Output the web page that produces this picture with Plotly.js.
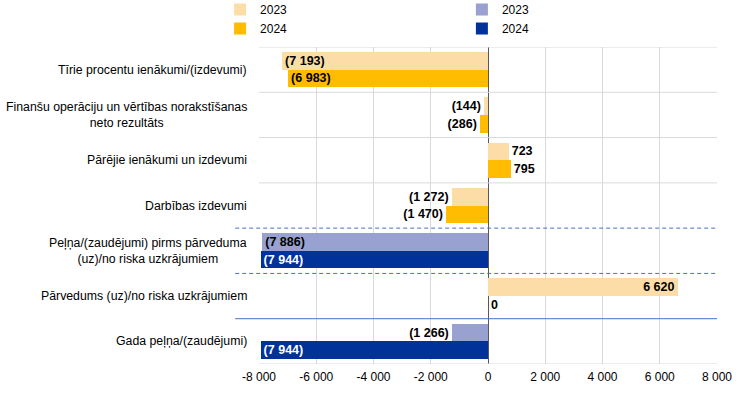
<!DOCTYPE html>
<html>
<head>
<meta charset="utf-8">
<script src="https://cdn.plot.ly/plotly-3.0.1.min.js"></script>
<style>html,body{margin:0;padding:0;background:#fff;}#chart{width:744px;height:398px;}</style>
</head>
<body>
<div id="chart"></div>
<script>
const categories = [
  "Tīrie procentu ienākumi/(izdevumi)",
  "Finanšu operāciju un vērtības norakstīšanas<br>neto rezultāts",
  "Pārējie ienākumi un izdevumi",
  "Darbības izdevumi",
  "Peļņa/(zaudējumi) pirms pārveduma<br>(uz)/no riska uzkrājumiem",
  "Pārvedums (uz)/no riska uzkrājumiem",
  "Gada peļņa/(zaudējumi)"
];
const values2023 = [-7193, -144, 723, -1272, -7886, 6620, -1266];
const values2024 = [-6983, -286, 795, -1470, -7944, 0, -7944];
const isBlue = [false, false, false, false, true, false, true];
const seriesNames = ["2023", "2024"];
const tickValues = [-8000, -6000, -4000, -2000, 0, 2000, 4000, 6000, 8000];
const tickLabels = ["-8 000", "-6 000", "-4 000", "-2 000", "0", "2 000", "4 000", "6 000", "8 000"];

function fmt(v) {
  if (v === null) return "";
  const s = Math.abs(v).toString().replace(/\B(?=(\d{3})+(?!\d))/g, " ");
  return v < 0 ? "(" + s + ")" : s;
}
function pick(vals, blue) { return vals.map((v, i) => (isBlue[i] === blue ? v : null)); }
function pos(vals) { return vals.map(v => (v !== null && Math.abs(v) > 3000 ? "inside" : "outside")); }

const yIdx = categories.map((c, i) => i);
const W = 0.39;
const FF = "Liberation Sans, Arial";
function mk(vals, name, color, offset, legend, txtColor) {
  return {
    type: "bar", orientation: "h", name: name, legend: legend,
    y: yIdx, x: vals, width: W, offset: offset,
    marker: {color: color, line: {width: 0}},
    text: vals.map(fmt), textposition: pos(vals),
    textfont: {family: FF, size: 12.5, color: "#000", weight: "bold"},
    insidetextfont: {family: FF, size: 12.5, color: txtColor, weight: "bold"},
    outsidetextfont: {family: FF, size: 12.5, color: "#000", weight: "bold"},
    constraintext: "none", cliponaxis: false, hoverinfo: "x"
  };
}
const o23 = pick(values2023, false), o24 = pick(values2024, false);
const b23 = pick(values2023, true), b24 = pick(values2024, true);
const data = [
  mk(o23, seriesNames[0], "#FDDDA7", -W, "legend", "#000"),
  mk(o24, seriesNames[1], "#FFBC00", 0, "legend", "#000"),
  mk(b23, seriesNames[0], "#98A1D0", -W, "legend2", "#000"),
  mk(b24, seriesNames[1], "#003299", 0, "legend2", "#fff")
];

const shapes = [];
[-0.5, 0.5, 1.5, 2.5, 6.5].forEach(b => shapes.push({type: "line", xref: "paper", yref: "y", x0: 0, x1: 1, y0: b, y1: b, line: {color: "#D9D9D9", width: 1}}));
[3.5, 4.5].forEach(b => shapes.push({type: "line", xref: "paper", yref: "y", x0: -0.052, x1: 1, y0: b, y1: b, line: {color: "#4472C4", width: 1, dash: "4px,3px"}}));
shapes.push({type: "line", xref: "paper", yref: "y", x0: -0.052, x1: 1, y0: 5.5, y1: 5.5, line: {color: "#4472C4", width: 1}});

const annotations = categories.map((c, i) => ({
  xref: "paper", yref: "y", x: -0.022, y: i, text: c, showarrow: false,
  xanchor: "right", yanchor: "middle", align: "center",
  font: {family: FF, size: 12.3, color: "#000"}
}));

const legFont = {family: FF, size: 12, color: "#000"};
const layout = {
  width: 744, height: 398,
  margin: {l: 259, r: 27, t: 47, b: 34, autoexpand: false},
  paper_bgcolor: "#fff", plot_bgcolor: "#fff",
  barmode: "overlay", bargap: 0,
  showlegend: true,
  legend: {x: -0.085, y: 1.164, xanchor: "left", yanchor: "top", orientation: "v", font: legFont, bgcolor: "rgba(0,0,0,0)", tracegroupgap: 0, itemwidth: 30},
  legend2: {x: 0.443, y: 1.164, xanchor: "left", yanchor: "top", orientation: "v", font: legFont, bgcolor: "rgba(0,0,0,0)", tracegroupgap: 0, itemwidth: 30},
  xaxis: {
    range: [-8000, 8000], tickvals: tickValues, ticktext: tickLabels,
    showgrid: true, gridcolor: "#D9D9D9", gridwidth: 1,
    zeroline: true, zerolinecolor: "#595959", zerolinewidth: 1,
    showline: false, ticks: "", ticklabelstandoff: 4,
    tickfont: {family: FF, size: 12, color: "#000"}
  },
  yaxis: {
    range: [6.5, -0.5], showticklabels: false, showgrid: false, zeroline: false, ticks: "", type: "linear"
  },
  shapes: shapes, annotations: annotations,
  font: {family: FF}
};
Plotly.newPlot("chart", data, layout, {displayModeBar: false, staticPlot: true});
</script>
</body>
</html>
